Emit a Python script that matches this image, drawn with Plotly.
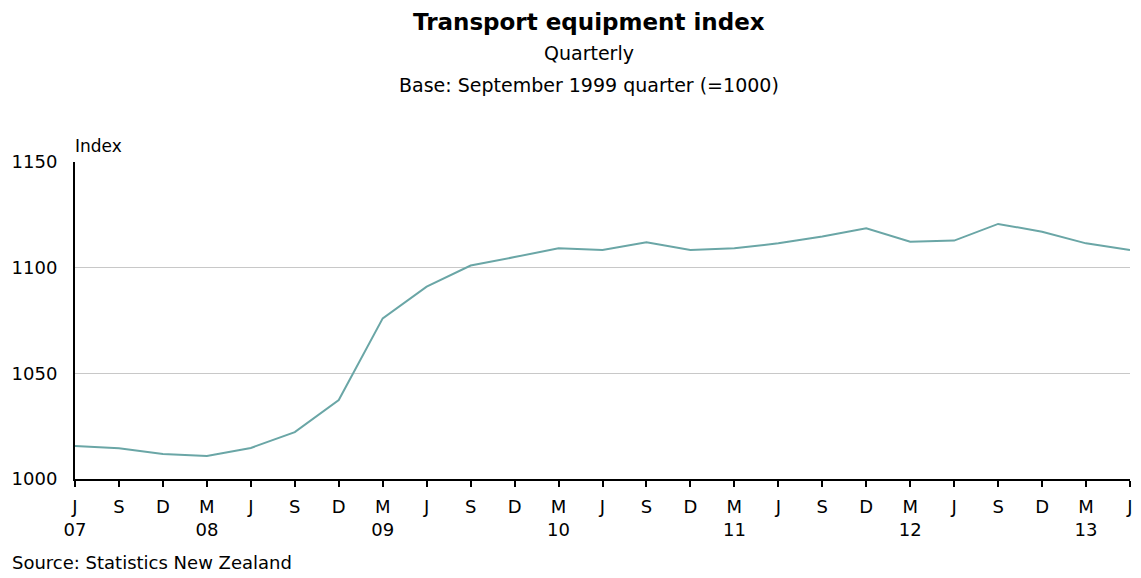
import plotly.graph_objects as go

# Quarter labels (month letter, year label or blank)
months = ["J", "S", "D", "M", "J", "S", "D", "M", "J", "S", "D", "M", "J",
          "S", "D", "M", "J", "S", "D", "M", "J", "S", "D", "M", "J"]
years = ["07", "", "", "08", "", "", "", "09", "", "", "", "10", "", "",
         "", "11", "", "", "", "12", "", "", "", "13", ""]
index_values = [1015.6, 1014.5, 1011.8, 1010.9, 1014.7, 1022.2, 1037.4, 1076.0,
                1091.0, 1101.0, 1105.0, 1109.2, 1108.4, 1112.0, 1108.4, 1109.2,
                1111.5, 1114.7, 1118.6, 1112.3, 1112.8, 1120.7, 1117.0, 1111.5,
                1108.4]
y_ticks = [1000, 1050, 1100, 1150]

x = list(range(len(index_values)))
tick_text = [m + "<br>" + (y if y else " ") for m, y in zip(months, years)]

FONT = "DejaVu Sans"

fig = go.Figure()
fig.add_trace(go.Scatter(x=x, y=index_values, mode="lines",
                         line=dict(color="#6aa6a6", width=2),
                         hoverinfo="skip", showlegend=False))

fig.update_layout(
    width=1141, height=578,
    margin=dict(l=75, r=8, t=162, b=99),
    paper_bgcolor="white", plot_bgcolor="white",
    font=dict(family=FONT, size=18, color="black"),
    xaxis=dict(range=[0, len(x) - 1], tickmode="array", tickvals=x,
               ticktext=tick_text, ticks="outside", ticklen=6, tickwidth=2,
               tickcolor="black", showline=True, linecolor="black",
               linewidth=2, showgrid=False, zeroline=False,
               ticklabelstandoff=4,
               tickfont=dict(family=FONT, size=18, color="black")),
    yaxis=dict(range=[1000, 1150], tickmode="array", tickvals=y_ticks,
               ticks="", showline=True, linecolor="black", linewidth=2,
               showgrid=True, gridcolor="#c8c8c8", gridwidth=1,
               zeroline=False, ticklabelstandoff=12,
               tickfont=dict(family=FONT, size=18, color="black")),
    annotations=[
        dict(text="<b>Transport equipment index</b>", xref="paper", yref="paper",
             x=0.4868, y=1.4416, xanchor="center", yanchor="middle",
             showarrow=False, font=dict(family=FONT, size=23, color="black")),
        dict(text="Quarterly", xref="paper", yref="paper",
             x=0.4868, y=1.345, xanchor="center", yanchor="middle",
             showarrow=False, font=dict(family=FONT, size=19, color="black")),
        dict(text="Base: September 1999 quarter (=1000)", xref="paper", yref="paper",
             x=0.4868, y=1.2415, xanchor="center", yanchor="middle",
             showarrow=False, font=dict(family=FONT, size=19, color="black")),
        dict(text="Index", xref="paper", yref="paper",
             x=-0.0019, y=1.0505, xanchor="left", yanchor="middle",
             showarrow=False, font=dict(family=FONT, size=17, color="black")),
        dict(text="Source: Statistics New Zealand", xref="paper", yref="paper",
             x=-0.0615, y=-0.262, xanchor="left", yanchor="middle",
             showarrow=False, font=dict(family=FONT, size=18, color="black")),
    ],
)

fig.write_html("out.html", config={"displayModeBar": False},
               post_script="document.body.style.margin='0';")
